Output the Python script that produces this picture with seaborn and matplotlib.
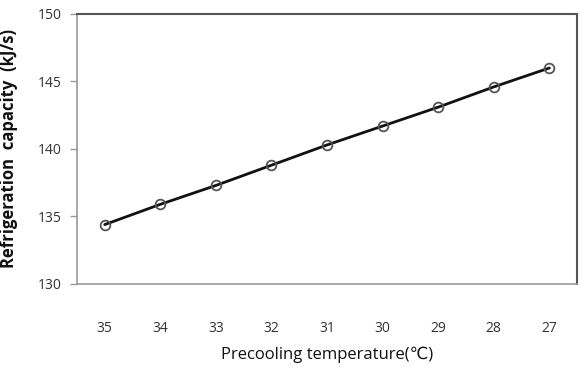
import matplotlib
matplotlib.use("Agg")
import matplotlib.pyplot as plt
import seaborn as sns
import pandas as pd

temperatures = ["35", "34", "33", "32", "31", "30", "29", "28", "27"]
capacity = [134.4, 135.9, 137.3, 138.8, 140.3, 141.7, 143.1, 144.6, 146.0]
y_ticks = [130, 135, 140, 145, 150]

sns.set_theme(style="white")
plt.rcParams['font.family'] = ['Open Sans', 'DejaVu Sans']

df = pd.DataFrame({"temp": temperatures, "cap": capacity})

fig = plt.figure(figsize=(5.83, 3.75), dpi=100)
ax = fig.add_axes([0.132, 0.2427, 0.858, 0.72])

sns.lineplot(data=df, x="temp", y="cap", ax=ax, color="#111111", linewidth=2.0,
             marker="o", markersize=7, markerfacecolor="none",
             markeredgecolor="#555555", markeredgewidth=1.3, sort=False)

ax.set_xlim(-0.5, len(temperatures) - 0.5)
ax.set_ylim(130, 150)
ax.set_yticks(y_ticks)
ax.set_yticklabels([str(t) for t in y_ticks])

for side in ["top", "right"]:
    ax.spines[side].set_color("#555555")
    ax.spines[side].set_linewidth(1.5)
for side in ["left", "bottom"]:
    ax.spines[side].set_color("#999999")
    ax.spines[side].set_linewidth(1.2)

ax.tick_params(axis="y", direction="out", length=5, width=1, color="#999999",
               left=True, labelsize=10, labelcolor="#333333", pad=6)
ax.tick_params(axis="x", length=0, labelsize=10, labelcolor="#333333", pad=27)

ax.set_xlabel("Precooling temperature(℃)", fontsize=12, color="#111111", labelpad=7)
ax.set_ylabel("Refrigeration  capacity  (kJ/s)", fontsize=12, fontweight="bold",
              color="#111111", labelpad=14)

fig.savefig("out.png", dpi=100)
